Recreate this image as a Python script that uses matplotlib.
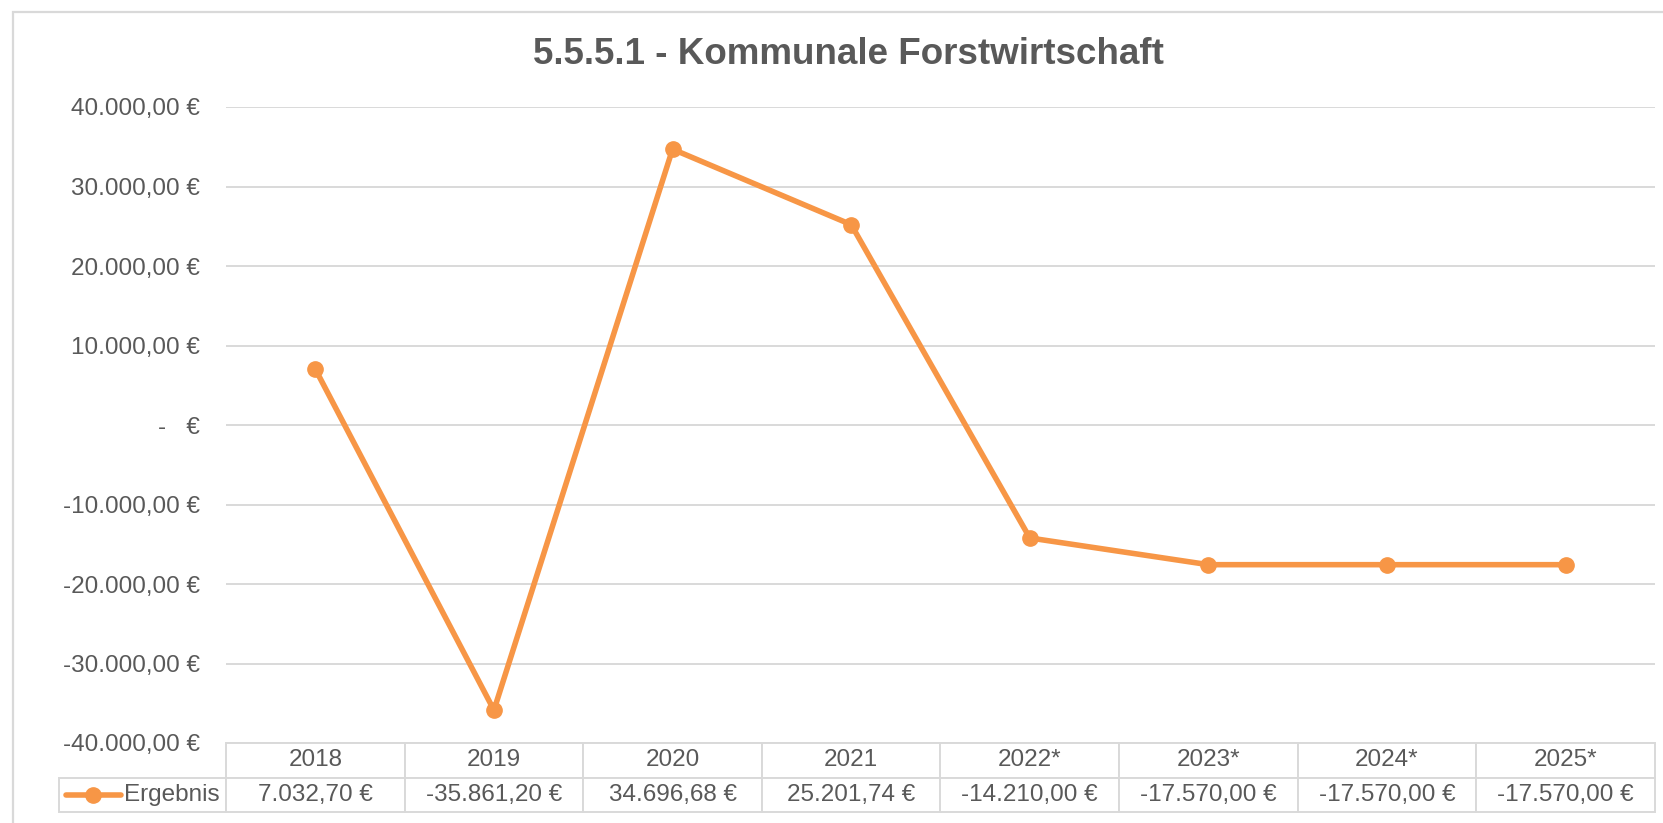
import matplotlib
matplotlib.use("Agg")
import matplotlib.pyplot as plt
from matplotlib.lines import Line2D
from matplotlib.patches import Rectangle

plt.rcParams["font.family"] = ["Liberation Sans", "DejaVu Sans"]

years = ["2018", "2019", "2020", "2021", "2022*", "2023*", "2024*", "2025*"]
ergebnis = [7032.70, -35861.20, 34696.68, 25201.74, -14210.00, -17570.00, -17570.00, -17570.00]
yticks = [-40000, -30000, -20000, -10000, 0, 10000, 20000, 30000, 40000]

ORANGE = "#F79646"
TEXT = "#595959"
GRID = "#D9D9D9"


def euro(v):
    if v == 0:
        return "-   €"
    s = f"{v:,.2f}".replace(",", "X").replace(".", ",").replace("X", ".")
    return s + " €"


W, H = 1663, 823
fig = plt.figure(figsize=(W / 100, H / 100), dpi=100)

# outer chart frame (cut off at right/bottom like the screenshot)
fig.patches.append(Rectangle((13 / W, -0.1), 1.2, 1.1 - 12 / H, transform=fig.transFigure,
                             fill=False, edgecolor=GRID, linewidth=1.6, zorder=0))

left, right, top, bottom = 226, 1655, 107, 743
ax = fig.add_axes([left / W, 1 - bottom / H, (right - left) / W, (bottom - top) / H])

x = range(len(years))
ax.plot(x, ergebnis, color=ORANGE, linewidth=4.0, marker="o", markersize=11,
        solid_joinstyle="round", zorder=3, clip_on=False)

ax.set_xlim(-0.5, len(years) - 0.5)
ax.set_ylim(-40000, 40000)
ax.set_yticks(yticks)
ax.set_yticklabels([euro(v) for v in yticks])
ax.set_xticks([])
ax.tick_params(axis="y", length=0, pad=19, labelsize=17.5, labelcolor=TEXT)
ax.grid(axis="y", color=GRID, linewidth=1.4)
ax.set_axisbelow(True)
for sp in ax.spines.values():
    sp.set_visible(False)

# data table below the plot: first column holds the legend key
leg_left, tbl_bottom = 59, 812
col_w = (right - left) / len(years)
widths = [left - leg_left] + [col_w] * len(years)
total_w = sum(widths)
tbl = ax.table(cellText=[[""] + years, ["Ergebnis "] + [euro(v) for v in ergebnis]],
               cellLoc="center",
               colWidths=[w / total_w for w in widths],
               bbox=[(leg_left - left) / (right - left), -(tbl_bottom - bottom) / (bottom - top),
                     (right - leg_left) / (right - left), (tbl_bottom - bottom) / (bottom - top)])
tbl.auto_set_font_size(False)
for (r, c), cell in tbl.get_celld().items():
    cell.set_edgecolor(GRID)
    cell.set_linewidth(1.4)
    cell.get_text().set_color(TEXT)
    cell.get_text().set_fontsize(17.5)
    if c == 0:
        if r == 0:
            cell.visible_edges = ""
        else:
            cell.get_text().set_ha("right")
            cell._loc = "right"
            cell.PAD = 0.0

# legend key inside the row label cell
fig.lines.append(Line2D([66 / W, 121 / W], [1 - 795 / H, 1 - 795 / H], transform=fig.transFigure,
                        color=ORANGE, linewidth=4.0, solid_capstyle="round"))
fig.lines.append(Line2D([93 / W], [1 - 795 / H], transform=fig.transFigure, color=ORANGE,
                        marker="o", markersize=11, linestyle="none"))

fig.text(848 / W, 1 - 54 / H, "5.5.5.1 - Kommunale Forstwirtschaft", ha="center", va="center",
         fontsize=26.5, fontweight="bold", color=TEXT)

fig.savefig("out.png", dpi=100, facecolor="white")
